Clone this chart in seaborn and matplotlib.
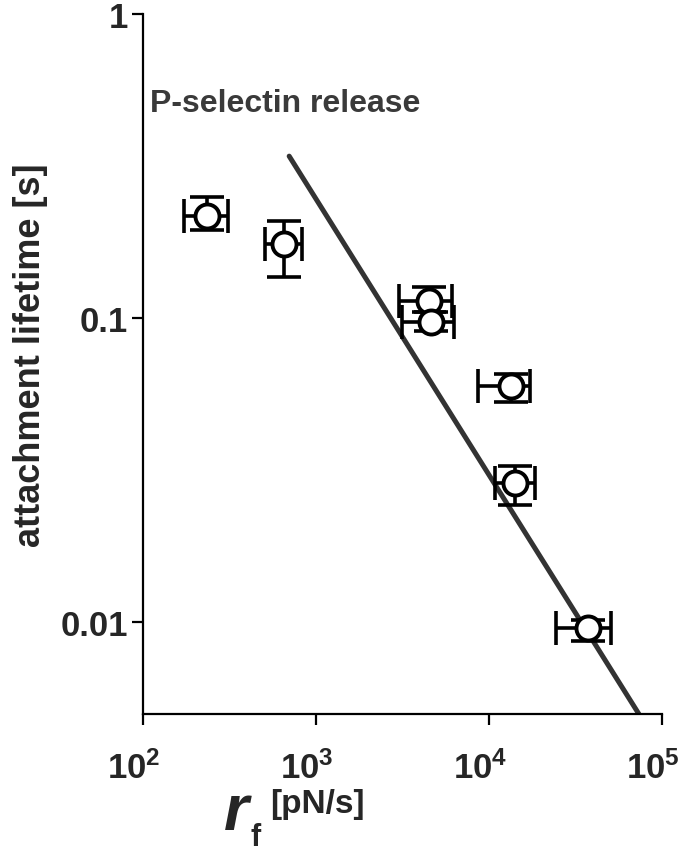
import numpy as np
import pandas as pd
import matplotlib
matplotlib.use("Agg")
import matplotlib.pyplot as plt
import seaborn as sns
from matplotlib.ticker import FixedLocator, NullLocator
from matplotlib.transforms import ScaledTranslation

# loading rate r_f [pN/s] and attachment lifetime [s]
rate = [236, 650, 4530, 4600, 13460, 14070, 37400]
rate_lo = [173, 508, 3030, 3150, 8590, 10770, 24550]
rate_hi = [311, 834, 6150, 6300, 17180, 18370, 51000]
lifetime = [0.217, 0.175, 0.114, 0.097, 0.0599, 0.0288, 0.0096]
life_lo = [0.195, 0.137, 0.105, 0.0906, 0.0530, 0.0244, 0.00868]
life_hi = [0.250, 0.208, 0.127, 0.105, 0.0654, 0.0327, 0.0102]

# fitted line, end points
fit_x = [700, 73500]
fit_y = [0.341, 0.005]

xticks = [1e2, 1e3, 1e4, 1e5]
xtick_labels = [r"$\mathbf{10^{2}}$", r"$\mathbf{10^{3}}$", r"$\mathbf{10^{4}}$", r"$\mathbf{10^{5}}$"]
yticks = [0.01, 0.1, 1]
ytick_labels = ["0.01", "0.1", "1"]

sns.set_style("ticks")
plt.rcParams["font.family"] = ["Liberation Sans", "DejaVu Sans"]
plt.rcParams["mathtext.fontset"] = "custom"
plt.rcParams["mathtext.rm"] = "Liberation Sans"
plt.rcParams["mathtext.bf"] = "Liberation Sans:bold"
plt.rcParams["mathtext.it"] = "Liberation Sans:italic"

df = pd.DataFrame({"rate": rate, "lifetime": lifetime})
fit = pd.DataFrame({"x": fit_x, "y": fit_y})

fig = plt.figure(figsize=(6.88, 8.53), dpi=100)
ax = fig.add_axes([0.2078, 0.1618, 0.7544, 0.8206])

sns.lineplot(data=fit, x="x", y="y", ax=ax, color="#333333", lw=3.6, zorder=2)

xerr = [np.array(rate) - np.array(rate_lo), np.array(rate_hi) - np.array(rate)]
yerr = [np.array(lifetime) - np.array(life_lo), np.array(life_hi) - np.array(lifetime)]
ax.errorbar(rate, lifetime, xerr=xerr, yerr=yerr, fmt="none", ecolor="black",
            elinewidth=2.6, capsize=12, capthick=2.6, zorder=3)
sns.scatterplot(data=df, x="rate", y="lifetime", ax=ax, marker="o", s=300,
                facecolor="white", edgecolor="black", linewidth=2.8, zorder=4)

ax.set_xscale("log")
ax.set_yscale("log")
ax.set_xlim(1e2, 1e5)
ax.set_ylim(0.005, 1)
ax.xaxis.set_major_locator(FixedLocator(xticks))
ax.yaxis.set_major_locator(FixedLocator(yticks))
ax.xaxis.set_minor_locator(NullLocator())
ax.yaxis.set_minor_locator(NullLocator())
ax.set_xticklabels(xtick_labels, fontsize=25)
ax.set_yticklabels(ytick_labels, fontsize=25, fontweight="bold")
ax.tick_params(axis="both", direction="out", length=8, width=1.6, color="black")
ax.tick_params(axis="y", pad=3)
ax.tick_params(axis="x", pad=18)
# x tick labels sit a bit left of their ticks in the original
for lab in ax.get_xticklabels():
    lab.set_transform(lab.get_transform() + ScaledTranslation(-0.09, 0, fig.dpi_scale_trans))
for s in ["left", "bottom"]:
    ax.spines[s].set_linewidth(1.6)
    ax.spines[s].set_color("black")
sns.despine(ax=ax)
ax.set_xlabel("")
ax.set_ylabel("")

ax.text(0.014, 0.862, "P-selectin release", transform=ax.transAxes, fontsize=23,
        fontweight="bold", color="#3a3a3a", ha="left", va="baseline")

fig.text(0.045, 0.584, "attachment lifetime [s]", rotation=90, fontsize=26,
         fontweight="bold", ha="center", va="center")
fig.text(0.325, 0.027, "r", fontsize=46, fontweight="bold", fontstyle="italic",
         ha="left", va="baseline")
fig.text(0.364, 0.008, "f", fontsize=22, fontweight="bold", ha="left", va="baseline")
fig.text(0.393, 0.047, "[pN/s]", fontsize=24, fontweight="bold", ha="left", va="baseline")

fig.savefig("out.png", dpi=100)
